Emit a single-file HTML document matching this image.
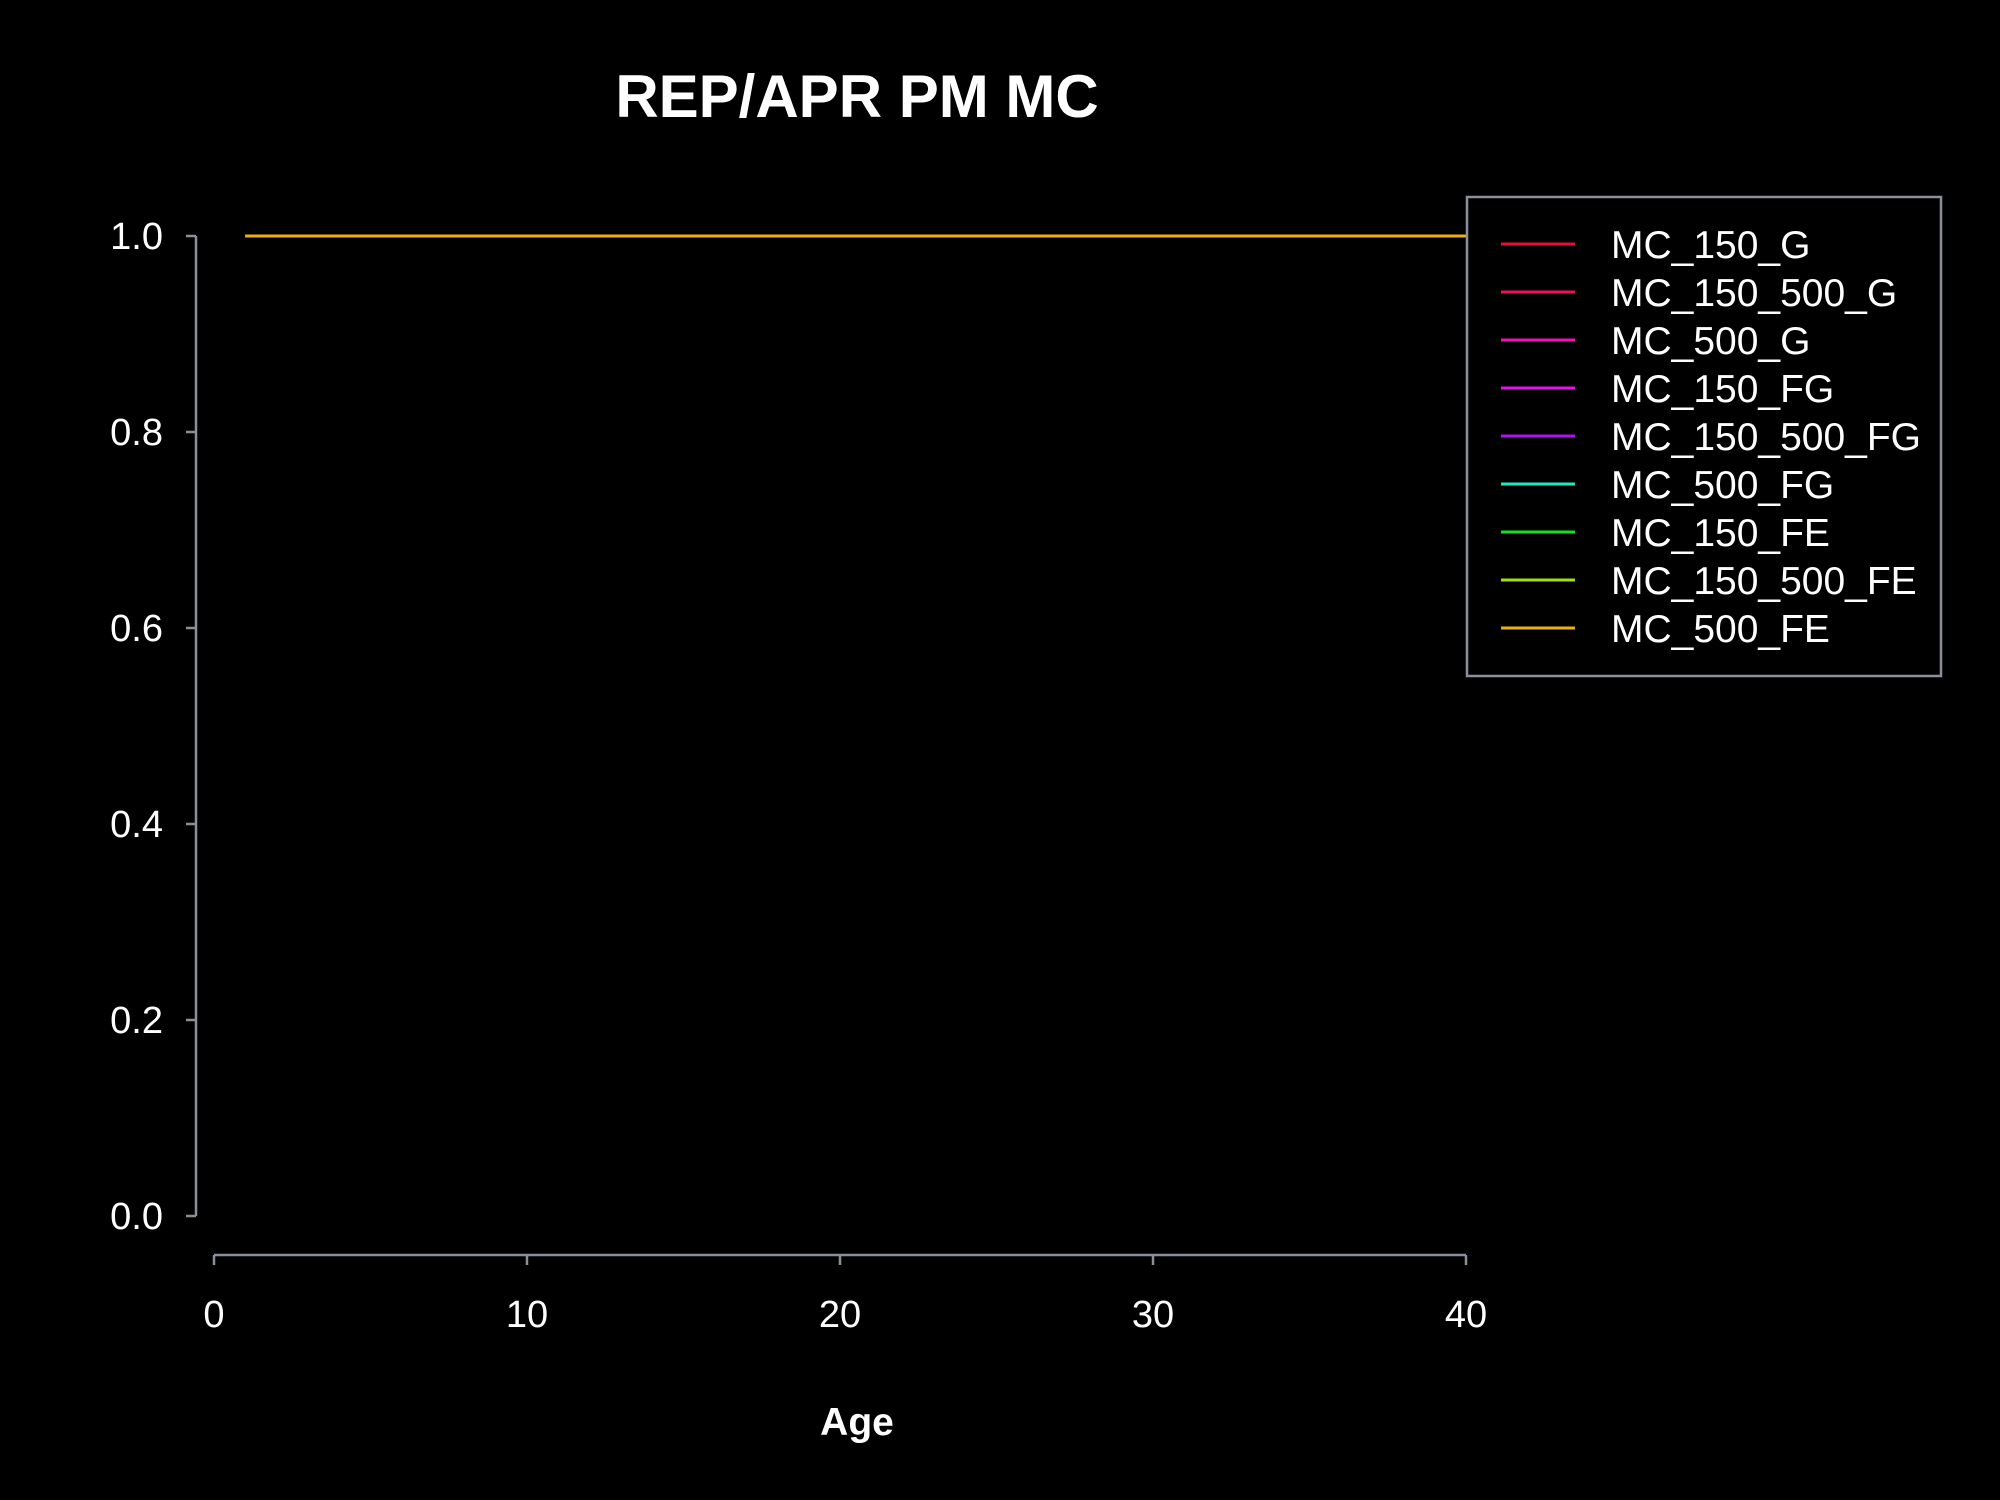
<!DOCTYPE html>
<html><head><meta charset="utf-8">
<style>
html,body{margin:0;padding:0;background:#000;}
svg{display:block;font-family:"Liberation Sans",sans-serif;}
</style></head>
<body>
<svg id="chart" width="2000" height="1500" viewBox="0 0 2000 1500">
<rect width="2000" height="1500" fill="#000"/>
<text x="857" y="117" fill="#fff" font-size="60" font-weight="bold" text-anchor="middle">REP/APR PM MC</text>
<text x="857" y="1435" fill="#fff" font-size="39" font-weight="bold" text-anchor="middle">Age</text>
<g id="axes"></g>
<g id="series"></g>
<g id="legend"></g>
</svg>
<script>
const ages = [];
for (let a = 1; a <= 40; a++) ages.push(a);
const seriesNames = ["MC_150_G","MC_150_500_G","MC_500_G","MC_150_FG","MC_150_500_FG","MC_500_FG","MC_150_FE","MC_150_500_FE","MC_500_FE"];
const seriesColors = ["#e0103a","#ee1060","#f010b8","#e810f0","#b010f0","#20e8c0","#10e020","#a0e010","#e8b010"];
const valuesAll = [1,1,1,1,1,1,1,1,1,1,1,1,1,1,1,1,1,1,1,1,1,1,1,1,1,1,1,1,1,1,1,1,1,1,1,1,1,1,1,1];
const seriesValues = seriesNames.map(() => valuesAll.slice());
const xTicks = [0,10,20,30,40];
const yTicks = [0,0.2,0.4,0.6,0.8,1.0];
const yTickLabels = ["0.0","0.2","0.4","0.6","0.8","1.0"];

const NS = "http://www.w3.org/2000/svg";
const xs = v => 214 + (v - 0) / 40 * (1466 - 214);
const ys = v => 1216 - v * (1216 - 236);
function mk(tag, attrs, parent) {
  const e = document.createElementNS(NS, tag);
  for (const k in attrs) e.setAttribute(k, attrs[k]);
  parent.appendChild(e);
  return e;
}
const axes = document.getElementById("axes");
const axisCol = "#8a8f99";
let e = mk("line", {x1:196,y1:ys(0),x2:196,y2:ys(1),stroke:axisCol,"stroke-width":2.5}, axes);


yTicks.forEach((t, i) => {
  const tk = mk("line", {x1:186,y1:ys(t),x2:196,y2:ys(t),stroke:axisCol,"stroke-width":2.5}, axes);
  
  
  const lb = mk("text", {x:163,y:ys(t)+13,fill:"#fff","font-size":38,"text-anchor":"end"}, axes);
  lb.textContent = yTickLabels[i];
  
  
});
e = mk("line", {x1:xs(0),y1:1255,x2:xs(40),y2:1255,stroke:axisCol,"stroke-width":2.5}, axes);


xTicks.forEach(t => {
  const tk = mk("line", {x1:xs(t),y1:1255,x2:xs(t),y2:1265,stroke:axisCol,"stroke-width":2.5}, axes);
  
  
  const lb = mk("text", {x:xs(t),y:1327,fill:"#fff","font-size":38,"text-anchor":"middle"}, axes);
  lb.textContent = String(t);
  
  
});
const sg = document.getElementById("series");
seriesValues.forEach((vals, i) => {
  const pts = vals.map((v, j) => xs(ages[j]) + "," + ys(v)).join(" ");
  const pl = mk("polyline", {points:pts,fill:"none",stroke:seriesColors[i],"stroke-width":3}, sg);
  
  
});
const lg = document.getElementById("legend");
e = mk("rect", {x:1467,y:197,width:474,height:479,fill:"#000",stroke:axisCol,"stroke-width":2.5}, lg);


seriesNames.forEach((n, i) => {
  const y = 244 + i * 48;
  const g = mk("g", {}, lg);
  
  
  mk("line", {x1:1501,y1:y,x2:1575,y2:y,stroke:seriesColors[i],"stroke-width":3}, g);
  const t = mk("text", {x:1611,y:y+14,fill:"#fff","font-size":39}, g);
  t.textContent = n;
});
</script>
</body></html>
